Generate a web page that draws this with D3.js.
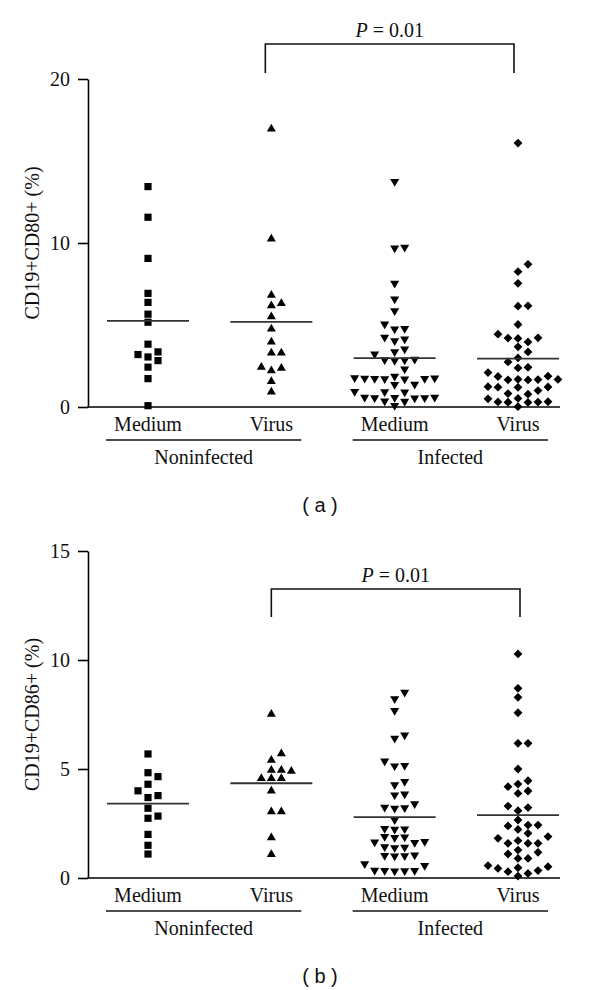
<!DOCTYPE html>
<html><head><meta charset="utf-8">
<script src="https://cdn.jsdelivr.net/npm/d3@7"></script>
<style>body{margin:0;background:#fff}svg{display:block}</style>
</head><body>
<svg id="c" width="600" height="990"></svg>
<script>
// ---------- data ----------
const groupKeys = ["NonMedium","NonVirus","InfMedium","InfVirus"];
const categoryLabels = ["Medium","Virus","Medium","Virus"];
const conditionLabels = ["Noninfected","Infected"];
const pLabelPrefix = "P";
const pLabelSuffix = " = 0.01";

// Panel (a): CD19+CD80+ (%)
const cd80NonMedium = [13.44,11.57,9.06,6.93,6.38,5.66,5.17,3.83,3.36,3.2,3.05,2.83,2.43,1.73,0.08];
const cd80NonVirus  = [17.02,10.32,6.88,6.38,6.25,5.58,4.83,4.03,3.36,3.36,2.49,2.44,2.28,1.63,0.98];
const cd80InfMedium = [13.68,9.67,9.62,7.47,6.52,5.8,4.99,4.72,4.68,4.18,4.07,3.97,3.46,3.3,3.16,2.84,2.81,2.79,2.76,2.24,1.8,1.72,1.7,1.68,1.67,1.66,1.65,1.63,1.32,1.3,0.88,0.86,0.84,0.53,0.52,0.51,0.5,0.49,0.48,0.3,0.28,0.02];
const cd80InfVirus  = [16.09,8.7,8.25,7.54,6.17,6.15,5.03,4.44,4.22,4.2,4.18,3.97,3.67,3.36,2.99,2.75,2.42,2.38,2.1,1.88,1.86,1.69,1.68,1.67,1.66,1.65,1.24,1.22,1.21,1.2,1.0,0.82,0.78,0.52,0.5,0.32,0.31,0.3,0.29,0.28,0.02];
const ticksA = [0,10,20];

// Panel (b): CD19+CD86+ (%)
const cd86NonMedium = [5.69,4.83,4.65,4.3,4.0,3.78,3.69,3.2,2.84,2.74,2.0,1.5,1.1];
const cd86NonVirus  = [7.57,5.75,5.46,5.0,5.0,4.95,4.62,4.62,4.62,4.04,3.09,3.09,1.9,1.13];
const cd86InfMedium = [8.47,8.17,7.63,6.51,6.36,5.31,5.11,5.09,4.37,4.22,3.8,3.76,3.35,3.19,3.17,3.15,2.62,2.22,2.2,2.18,1.85,1.83,1.81,1.62,1.6,1.58,1.38,1.36,1.34,1.0,0.98,0.97,0.96,0.6,0.52,0.3,0.29,0.29,0.28,0.27];
const cd86InfVirus  = [10.28,8.7,8.29,7.58,6.18,6.18,5.0,4.46,4.31,4.19,3.99,3.88,3.3,3.23,3.09,2.66,2.43,2.43,2.39,2.23,2.05,1.9,1.82,1.71,1.59,1.59,1.59,1.28,1.18,1.1,0.9,0.9,0.57,0.52,0.47,0.44,0.34,0.29,0.21,0.09];
const ticksB = [0,5,10,15];

// ---------- drawing ----------
const svg = d3.select("#c");
svg.append("rect").attr("width",600).attr("height",990).attr("fill","#fff");
const serif = "'Liberation Serif','Times New Roman',serif";

// custom symbols (size argument = half-width)
const sq = {draw(ctx,s){ctx.rect(-s,-s,2*s,2*s);}};
const triUp = {draw(ctx,s){ctx.moveTo(0,-s*0.95);ctx.lineTo(s*1.05,s*0.85);ctx.lineTo(-s*1.05,s*0.85);ctx.closePath();}};
const triDown = {draw(ctx,s){ctx.moveTo(0,s*0.95);ctx.lineTo(s*1.05,-s*0.85);ctx.lineTo(-s*1.05,-s*0.85);ctx.closePath();}};
const diamond = {draw(ctx,s){ctx.moveTo(0,-s*1.1);ctx.lineTo(s*1.1,0);ctx.lineTo(0,s*1.1);ctx.lineTo(-s*1.1,0);ctx.closePath();}};
const shapes = [sq, triUp, triDown, diamond];
const shapeSizes = [3.6, 4.3, 4.3, 4.0];

const x = d3.scalePoint().domain(groupKeys).range([148,518]);

function swarm(values, y){
  const spacing = 10, thr = 8;
  const placed = [];
  const sorted = values.slice().sort((a,b)=>a-b);
  sorted.forEach(v=>{
    const py = y(v);
    for(let i=0;i<40;i++){
      const k = i===0?0:(i%2===1?(i+1)/2:-(i/2));
      const clash = placed.some(p=>p.k===k && Math.abs(p.py-py)<thr);
      if(!clash){placed.push({v,py,k,dx:k*spacing});break;}
    }
  });
  return placed;
}

function panel(cfg){
  const g = svg.append("g");
  const y = d3.scaleLinear().domain([0,cfg.max]).range([cfg.y0,cfg.yTop]);
  const axisX = 88;
  // y axis
  const ax = g.append("g").attr("transform",`translate(${axisX},0)`)
    .call(d3.axisLeft(y).tickValues(cfg.ticks).tickSize(10).tickSizeOuter(0).tickPadding(8).tickFormat(d3.format("d")));
  ax.select(".domain").attr("stroke","#000").attr("stroke-width",1.6);
  ax.selectAll(".tick line").attr("stroke","#000").attr("stroke-width",1.6);
  ax.selectAll(".tick text").attr("font-family",serif).attr("font-size",20).attr("fill","#111");
  // x baseline
  g.append("line").attr("x1",axisX-0.8).attr("x2",560).attr("y1",y(0)).attr("y2",y(0))
    .attr("stroke","#000").attr("stroke-width",1.6);
  // y label
  g.append("text").attr("transform",`translate(39,${(cfg.y0+cfg.yTop)/2}) rotate(-90)`)
    .attr("text-anchor","middle").attr("font-family",serif).attr("font-size",20).attr("fill","#111")
    .text(cfg.ylabel);
  // points
  cfg.series.forEach((vals,i)=>{
    const cx = x(groupKeys[i]);
    const pts = swarm(vals,y);
    g.append("g").selectAll("path").data(pts).join("path")
      .attr("transform",p=>`translate(${cx+p.dx},${p.py})`)
      .attr("d",d3.symbol().type(shapes[i]).size(shapeSizes[i]))
      .attr("fill","#000");
    const m = d3.mean(vals);
    g.append("line").attr("x1",cx-41).attr("x2",cx+41).attr("y1",y(m)).attr("y2",y(m))
      .attr("stroke","#333").attr("stroke-width",1.8);
  });
  // category labels
  groupKeys.forEach((k,i)=>{
    g.append("text").attr("x",x(k)).attr("y",y(0)+24).attr("text-anchor","middle")
      .attr("font-family",serif).attr("font-size",20).attr("fill","#111").text(categoryLabels[i]);
  });
  // condition underlines & labels
  [[0,1],[2,3]].forEach((pair,j)=>{
    const xl = x(groupKeys[pair[0]])-42, xr = x(groupKeys[pair[1]])+30;
    g.append("line").attr("x1",xl).attr("x2",xr).attr("y1",y(0)+33).attr("y2",y(0)+33)
      .attr("stroke","#111").attr("stroke-width",1.6);
    g.append("text").attr("x",(xl+xr)/2).attr("y",y(0)+57).attr("text-anchor","middle")
      .attr("font-family",serif).attr("font-size",20).attr("fill","#111").text(conditionLabels[j]);
  });
  // bracket
  const bl = x(groupKeys[1])+cfg.bOff[0], br = x(groupKeys[3])+cfg.bOff[1];
  g.append("path").attr("d",`M${bl},${cfg.bY+cfg.bH}V${cfg.bY}H${br}V${cfg.bY+cfg.bH}`)
    .attr("fill","none").attr("stroke","#111").attr("stroke-width",1.6);
  const pt = g.append("text").attr("x",(bl+br)/2).attr("y",cfg.bY-7).attr("text-anchor","middle")
    .attr("font-family",serif).attr("font-size",20).attr("fill","#111");
  pt.append("tspan").attr("font-style","italic").text(pLabelPrefix);
  pt.append("tspan").text(pLabelSuffix);
  // panel letter
  g.append("text").attr("x",320).attr("y",y(0)+105).attr("text-anchor","middle")
    .attr("font-family","'Liberation Sans',Arial,sans-serif").attr("font-size",20).attr("fill","#111")
    .text(cfg.letter);
}

panel({max:20,y0:407,yTop:79,ticks:ticksA,ylabel:"CD19+CD80+ (%)",
  series:[cd80NonMedium,cd80NonVirus,cd80InfMedium,cd80InfVirus],
  bY:44,bH:29,bOff:[-6,-4],letter:"( a )"});
panel({max:15,y0:878,yTop:551,ticks:ticksB,ylabel:"CD19+CD86+ (%)",
  series:[cd86NonMedium,cd86NonVirus,cd86InfMedium,cd86InfVirus],
  bY:589,bH:28,bOff:[0,2],letter:"( b )"});
</script>
</body></html>
